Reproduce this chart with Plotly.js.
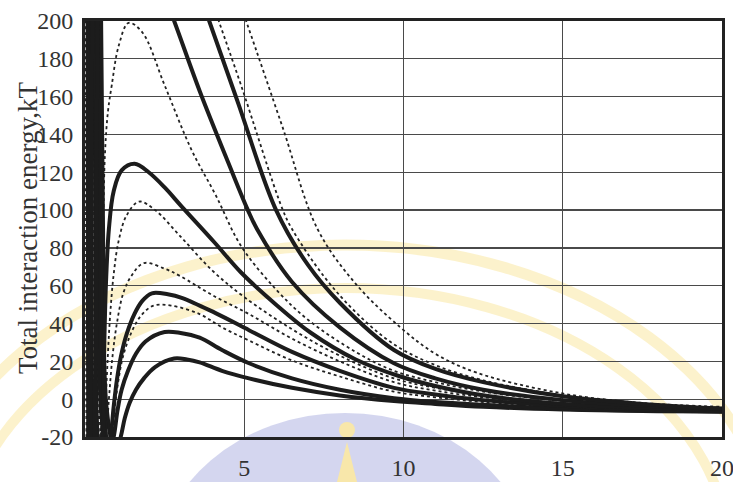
<!DOCTYPE html>
<html>
<head>
<meta charset="utf-8">
<script src="https://cdn.plot.ly/plotly-3.0.1.min.js"></script>
<style>html,body{margin:0;padding:0;background:#fff}#chart{width:733px;height:482px}</style>
</head>
<body>
<div id="chart"></div>
<script>
// ---- data (separation distance, total interaction energy kT) ----
var xTickVals = [5, 10, 15, 20];
var xTickText = ['5', '10', '15', '20'];
var yTickVals = [-20, 0, 20, 40, 60, 80, 100, 120, 140, 160, 180, 200];
var yTickText = ['-20', '0', '20', '40', '60', '80', '100', '120', '140', '160', '180', '200'];
var yTitle = 'Total interaction energy,kT';

// thick solid curves
var t1X = [0.5,0.56,0.68,0.95,1.12,1.25,1.4,1.6,1.85,2.2,2.8,3.2,3.6,4.3,5.15,6.5,8,9.7,11,12.5,15,17.5,20];
var t1Y = [210,100,-5,-28,-20,-10,-2,5,11,17,21.5,21,19.5,15,11,6,2,-1,-2.5,-4,-5.5,-6.3,-6.5];
var t2X = [0.45,0.5,0.6,0.76,0.9,1.02,1.15,1.35,1.6,1.9,2.5,3.0,3.6,4.3,5.15,6.5,8,9.7,11,12.5,15,17.5,20];
var t2Y = [210,100,-5,-28,-20,-6,5,15,24,30.5,35.5,35,32.5,26,19,11,5,0.5,-1.5,-3,-5,-6,-6.5];
var t3X = [0.4,0.43,0.5,0.68,0.8,0.9,1.0,1.12,1.3,1.55,1.8,2.1,2.6,3.06,4.1,5.15,6.5,8,9.7,11,12.5,15,17.5,20];
var t3Y = [210,100,-5,-28,-20,-4,10,22,34,45,52,56,55.5,53.5,45.5,36.5,25,15,6,2.5,-0.5,-3.5,-5.5,-6.5];
var t4X = [0.3,0.32,0.36,0.45,0.55,0.6,0.66,0.75,0.9,1.15,1.56,2.0,2.5,3.03,4.06,4.9,6,7.1,8.5,9.9,11,12.7,15,17.5,20];
var t4Y = [210,100,-5,-28,-20,25,62,90,110,121,124.5,120,112,102,83,67,50,35,21,12,7,1.5,-2.5,-4.5,-6];
var t5X = [0.18,0.2,0.22,0.26,0.3,0.35,0.4,null,2.3,2.8,3.6,4.5,5.1,5.4,6.5,8,9.7,11,12.5,15,17.5,20];
var t5Y = [210,100,-5,-28,-25,100,210,null,222,200,163,125,100.5,90,62,38,19,11,5,-0.5,-3.5,-5];
var t6X = [0.08,0.09,0.1,0.12,0.15,0.19,0.23,null,3.45,3.9,4.8,6.0,7,8,9.7,11,12.5,15,17.5,20];
var t6Y = [210,100,-5,-28,-25,100,210,null,222,200,157,100,71,51,26,16,9,1.5,-2.5,-5];

// thin dotted curves
var dDX = [0.42,0.46,0.55,0.72,0.84,0.94,1.05,1.2,1.45,1.75,2.15,2.7,3.6,4.3,5.15,6.5,8,9.7,11,12.5,15,17.5,20];
var dDY = [210,100,-5,-28,-20,-4,10,23,35,44,49.5,49.5,45,38,31,20.5,12,4,1,-1.5,-4,-5.5,-6.5];
var dCX = [0.36,0.39,0.45,0.56,0.66,0.75,0.86,1.0,1.2,1.45,1.85,2.5,3.0,4.0,5.15,6.5,8,9.7,11,12.5,15,17.5,20];
var dCY = [210,100,-5,-28,-20,0,22,40,56,65,72,69,65,55,45,32,20,9,4.5,1,-3,-5,-6];
var dBX = [0.33,0.35,0.4,0.5,0.6,0.68,0.78,0.9,1.06,1.3,1.7,2.2,3.0,4.0,5,6.5,8,9.7,11,12.5,15,17.5,20];
var dBY = [210,100,-5,-28,-20,10,42,66,84,97,104.5,100,86,68,54,37,23,11,6,2,-2,-4.5,-6];
var dAX = [0.22,0.25,0.28,0.38,0.46,0.52,0.58,0.63,0.72,0.84,1.06,1.37,1.8,2.5,3.34,4.1,4.9,6,7,8.5,9.7,11,12.5,15,17.5,20];
var dAY = [210,100,-5,-28,-25,40,100,131,152,166,187,199,194,166,132,108,81,58,42,25,15,9,4,-1,-3.5,-5];
var dE2X = [0.05,0.06,0.07,0.085,0.1,0.13,0.16,null,3.75,4.2,4.9,6.2,6.5,7.5,8.5,9.7,11,12.5,15,17.5,20];
var dE2Y = [210,100,-5,-28,-25,100,210,null,222,200,166,100.5,90,65,46,29,18,10,2,-2.5,-4.5];
var dE1X = [0.02,0.03,0.04,0.055,0.07,0.095,0.12,null,4.6,5.1,6.2,7.3,8.5,9.9,11,12.3,15,17.5,20];
var dE1Y = [210,100,-5,-28,-25,100,210,null,222,198,144,90,61,38,24,14,3,-2,-4];

var thickX = [t1X, t2X, t3X, t4X, t5X, t6X];
var thickY = [t1Y, t2Y, t3Y, t4Y, t5Y, t6Y];
var dotX = [dDX, dCX, dBX, dAX, dE2X, dE1X];
var dotY = [dDY, dCY, dBY, dAY, dE2Y, dE1Y];

var traces = [];
for (var i = 0; i < dotX.length; i++) {
  traces.push({x: dotX[i], y: dotY[i], type: 'scatter', mode: 'lines', connectgaps: false,
    line: {shape: 'spline', smoothing: 1, color: '#222', width: 1.8, dash: 'dot'}, hoverinfo: 'skip'});
}
for (var j = 0; j < thickX.length; j++) {
  traces.push({x: thickX[j], y: thickY[j], type: 'scatter', mode: 'lines', connectgaps: false,
    line: {shape: 'spline', smoothing: 1, color: '#1c1c1c', width: 4}, hoverinfo: 'skip'});
}

// faint watermark (decoration), in paper coordinates
var L = 85, R = 722, T = 21, B = 437;
function px(v) { return (v - L) / (R - L); }
function py(v) { return (B - v) / (B - T); }
function ell(cx, cy, rx, ry, style) {
  var s = {type: 'circle', xref: 'paper', yref: 'paper', layer: 'below',
    x0: px(cx - rx), x1: px(cx + rx), y0: py(cy + ry), y1: py(cy - ry)};
  for (var k in style) s[k] = style[k];
  return s;
}
var ringCol = 'rgba(250,234,170,0.6)';
var shapes = [
  ell(345, 575, 190, 162, {fillcolor: 'rgba(205,207,236,0.85)', line: {width: 0}}),
  ell(345, 560, 430, 315, {line: {color: ringCol, width: 11}}),
  ell(345, 560, 385, 272, {line: {color: ringCol, width: 10}}),
  ell(347, 430, 8, 8, {fillcolor: 'rgba(250,232,165,0.95)', line: {width: 0}}),
  {type: 'path', xref: 'paper', yref: 'paper', layer: 'below',
   path: 'M ' + px(347) + ' ' + py(442) + ' L ' + px(337) + ' ' + py(482) + ' L ' + px(357) + ' ' + py(482) + ' Z',
   fillcolor: 'rgba(250,232,165,0.95)', line: {width: 0}}
];

var layout = {
  width: 733, height: 482,
  margin: {l: L, r: 733 - R, t: T, b: 482 - B, pad: 0},
  paper_bgcolor: '#ffffff', plot_bgcolor: 'rgba(0,0,0,0)',
  showlegend: false,
  font: {family: 'Liberation Serif, Times New Roman, serif', color: '#333'},
  xaxis: {range: [0, 20], tickmode: 'array', tickvals: xTickVals, ticktext: xTickText,
    showgrid: true, gridcolor: '#4a4a4a', gridwidth: 1.3, zeroline: false,
    showline: true, mirror: true, linecolor: '#222', linewidth: 3, ticks: '',
    ticklabelstandoff: 7, ticklabeloverflow: 'allow',
    tickfont: {family: 'Liberation Serif', size: 24, color: '#333'}},
  yaxis: {range: [-20, 200], tickmode: 'array', tickvals: yTickVals, ticktext: yTickText,
    showgrid: true, gridcolor: '#4a4a4a', gridwidth: 1.3, zeroline: false,
    showline: true, mirror: true, linecolor: '#222', linewidth: 3, ticks: '',
    ticklabelstandoff: 4, ticklabeloverflow: 'allow',
    tickfont: {family: 'Liberation Serif', size: 24, color: '#333'}},
  annotations: [{text: yTitle, xref: 'paper', yref: 'paper', x: px(28), y: py(228),
    xanchor: 'center', yanchor: 'middle', textangle: -90, showarrow: false,
    font: {family: 'Liberation Serif', size: 27, color: '#333'}}],
  shapes: shapes
};

Plotly.newPlot('chart', traces, layout, {staticPlot: true, displayModeBar: false});
</script>
</body>
</html>
